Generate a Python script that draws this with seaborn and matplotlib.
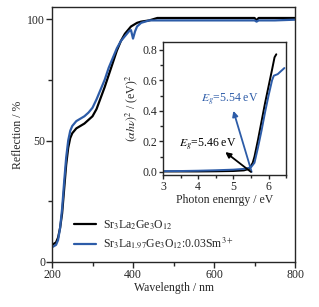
import matplotlib
matplotlib.use('Agg')
import numpy as np
import pandas as pd
import matplotlib.pyplot as plt
from matplotlib.ticker import MultipleLocator
import seaborn as sns

# main panel: diffuse reflection spectra
wl = [200, 210, 215, 220, 225, 230, 235, 240, 245, 250, 260, 270, 280, 290, 300,
      310, 320, 330, 340, 350, 360, 370, 380, 390, 395, 400, 405, 410, 420, 440,
      460, 500, 550, 600, 650, 700, 705, 710, 750, 800]
refl_host = [7, 8, 10, 14, 20, 30, 40, 47, 51, 53, 55, 56, 57, 58.5, 60,
             63, 67.5, 72, 77, 82, 87, 91, 94, 96, 97, 97.5, 98, 98.5, 99, 99.5,
             100.5, 100.5, 100.5, 100.5, 100.5, 100.5, 99.5, 100.5, 100.5, 100.5]
refl_sm = [6, 7, 9, 14, 22, 33, 43, 50, 54, 56, 58, 59, 60, 61.5, 63.5,
           67, 71, 75, 80, 84, 88, 91, 93, 95, 95.5, 92, 95, 97, 98.5, 99.5,
           99.5, 99.5, 99.5, 99.5, 99.5, 99.5, 99, 99.5, 99.5, 99.8]

# inset: (ahv)^2 vs photon energy
ev = [3.0, 3.5, 4.0, 4.5, 5.0, 5.3, 5.45, 5.55, 5.6, 5.7, 5.8, 5.9, 6.0, 6.1, 6.17, 6.22]
ahv_host = [0.003, 0.003, 0.003, 0.004, 0.006, 0.01, 0.02, 0.06, 0.1, 0.21, 0.33, 0.45,
            0.56, 0.67, 0.75, 0.77]
ev_sm = [3.0, 3.5, 4.0, 4.5, 5.0, 5.3, 5.5, 5.6, 5.7, 5.8, 5.9, 6.0, 6.1, 6.15, 6.26, 6.45]
ahv_sm = [0.005, 0.006, 0.008, 0.011, 0.015, 0.02, 0.03, 0.06, 0.16, 0.27, 0.39, 0.5,
          0.6, 0.63, 0.64, 0.68]

labels = [r'Sr$_3$La$_2$Ge$_3$O$_{12}$',
          r'Sr$_3$La$_{1.97}$Ge$_3$O$_{12}$:0.03Sm$^{3+}$']
colors = ['black', '#2d5ca8']

sns.set_style('ticks')
plt.rcParams['font.family'] = ['Liberation Serif', 'DejaVu Serif']
plt.rcParams['mathtext.fontset'] = 'stix'
plt.rcParams['font.size'] = 8.5

df_main = pd.concat([
    pd.DataFrame({'wl': wl, 'R': refl_host, 'sample': labels[0]}),
    pd.DataFrame({'wl': wl, 'R': refl_sm, 'sample': labels[1]}),
])
df_in = pd.concat([
    pd.DataFrame({'E': ev, 'A': ahv_host, 'sample': labels[0]}),
    pd.DataFrame({'E': ev_sm, 'A': ahv_sm, 'sample': labels[1]}),
])

fig = plt.figure(figsize=(3.19, 3.07), dpi=100)
ax = fig.add_axes([0.163, 0.147, 0.762, 0.830])
sns.lineplot(data=df_main, x='wl', y='R', hue='sample', palette=colors,
             linewidth=1.6, ax=ax, sort=False)
ax.set_xlim(200, 800)
ax.set_ylim(0, 105)
ax.set_xticks([200, 400, 600, 800])
ax.set_yticks([0, 50, 100])
ax.xaxis.set_minor_locator(MultipleLocator(100))
ax.yaxis.set_minor_locator(MultipleLocator(25))
ax.tick_params(which='major', length=4, width=1, labelsize=8.5, pad=1)
ax.tick_params(which='minor', length=3, width=1)
ax.set_xlabel('Wavelength / nm', fontsize=8.5, labelpad=1)
ax.set_ylabel('Reflection / %', fontsize=8.5, labelpad=2)
for s in ax.spines.values():
    s.set_linewidth(1)
ax.legend(loc='lower left', bbox_to_anchor=(0.045, 0.0), frameon=False,
          fontsize=8.5, handlelength=1.9, handletextpad=0.6, labelspacing=0.35)

ins = fig.add_axes([0.511, 0.430, 0.386, 0.433])
sns.lineplot(data=df_in, x='E', y='A', hue='sample', palette=colors,
             linewidth=1.4, ax=ins, sort=False, legend=False)
ins.set_facecolor('white')
ins.set_xlim(3, 6.5)
ins.set_ylim(-0.02, 0.85)
ins.set_xticks([3, 4, 5, 6])
ins.set_yticks([0.0, 0.2, 0.4, 0.6, 0.8])
ins.set_yticklabels(['0.0', '0.2', '0.4', '0.6', '0.8'])
ins.xaxis.set_minor_locator(MultipleLocator(0.5))
ins.yaxis.set_minor_locator(MultipleLocator(0.1))
ins.tick_params(which='major', length=3, width=1, labelsize=8.5, pad=1)
ins.tick_params(which='minor', length=2, width=1)
ins.set_xlabel('Photon enenrgy / eV', fontsize=8.5, labelpad=1)
ins.set_ylabel(r'$(\alpha h\nu)^2$ / (eV)$^2$', fontsize=8.5, labelpad=2)
for s in ins.spines.values():
    s.set_linewidth(1)

ins.annotate('', xy=(5.0, 0.40), xytext=(5.52, 0.0),
             arrowprops=dict(arrowstyle='-|>', color=colors[1], lw=1.3,
                             mutation_scale=8, shrinkA=0, shrinkB=0))
ins.annotate('', xy=(4.77, 0.13), xytext=(5.5, 0.0),
             arrowprops=dict(arrowstyle='-|>', color=colors[0], lw=1.3,
                             mutation_scale=8, shrinkA=0, shrinkB=0))
ins.text(4.89, 0.47, r'$E_g$=5.54 eV', color=colors[1], ha='center', va='center', fontsize=8.5)
ins.text(4.28, 0.175, r'$E_g$=5.46 eV', color=colors[0], ha='center', va='center', fontsize=8.5)

fig.savefig('out.png', dpi=100)
